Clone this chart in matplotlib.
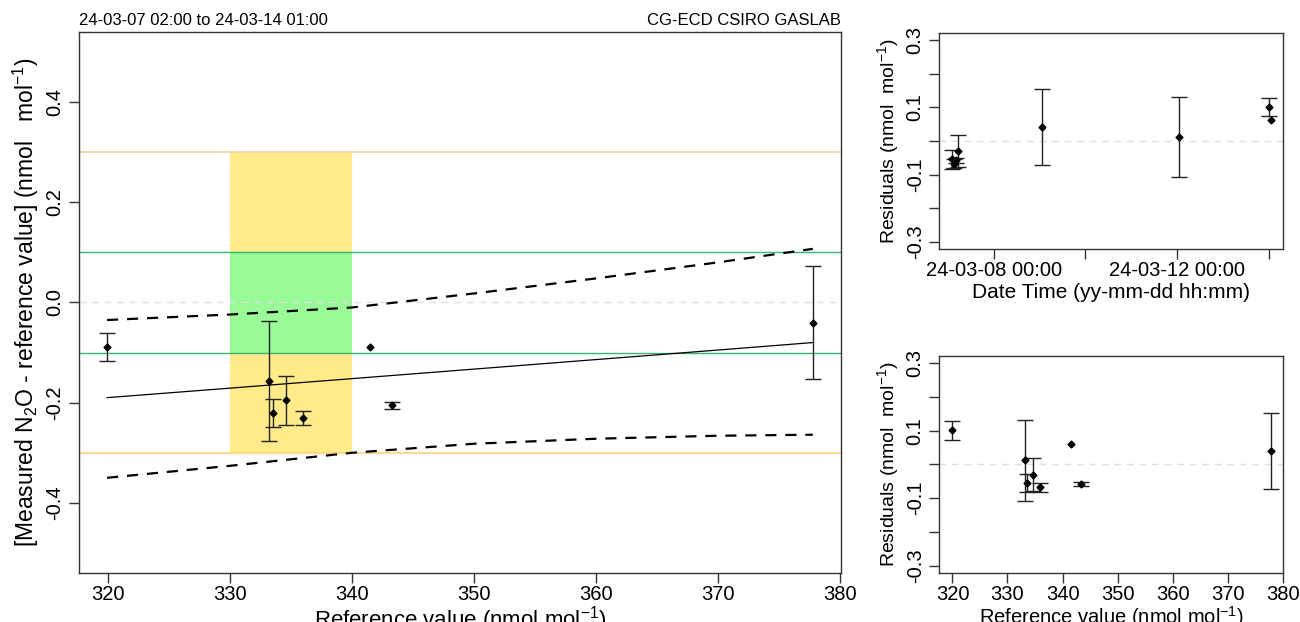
import matplotlib
matplotlib.use("Agg")
import matplotlib.pyplot as plt
import numpy as np
from datetime import datetime

plt.rcParams['font.family'] = ['Liberation Sans', 'DejaVu Sans']
plt.rcParams['mathtext.fontset'] = 'custom'
plt.rcParams['mathtext.rm'] = 'Liberation Sans'

# measurements: reference value, measured - reference, uncertainty
ref = [319.9, 333.2, 333.5, 334.6, 335.95, 341.5, 343.3, 377.8]
diff = [-0.089, -0.156, -0.221, -0.195, -0.231, -0.089, -0.205, -0.040]
unc = [0.028, 0.120, 0.028, 0.049, 0.014, 0.0, 0.007, 0.113]
resid = [0.101, 0.012, -0.055, -0.030, -0.068, 0.062, -0.058, 0.041]
times = ['24-03-14 00:00', '24-03-12 01:00', '24-03-07 02:00', '24-03-07 05:00',
         '24-03-07 03:00', '24-03-14 01:00', '24-03-07 04:00', '24-03-09 01:00']

# fitted line and confidence band
band_x = [319.9, 330, 340, 350, 360, 370, 377.8]
fit_y = [-0.190, -0.171, -0.152, -0.133, -0.114, -0.095, -0.080]
upper_y = [-0.035, -0.024, -0.010, 0.018, 0.048, 0.080, 0.107]
lower_y = [-0.350, -0.326, -0.300, -0.282, -0.272, -0.266, -0.264]

dates = [datetime.strptime(t, '%y-%m-%d %H:%M') for t in times]
# no bar where the uncertainty is zero
err = [u if u > 0 else np.nan for u in unc]

fig = plt.figure(figsize=(13, 6.22), dpi=100)
ax = fig.add_axes([0.0608, 0.0788, 0.586, 0.8698])
ax1 = fig.add_axes([0.7225, 0.5997, 0.2646, 0.3473])
ax2 = fig.add_axes([0.7225, 0.0788, 0.2646, 0.349])

def style(a, size):
    for s in a.spines.values():
        s.set_color('#333333')
        s.set_linewidth(1.0)
    a.tick_params(direction='out', length=7, width=1, colors='#333333',
                  labelcolor='black', labelsize=size)
    a.tick_params(axis='x', pad=2)
    for lab in a.get_yticklabels():
        lab.set_rotation(90)
        lab.set_va('center')

def points(a, x, y):
    a.errorbar(x, y, yerr=err, fmt='none', ecolor='#222222',
               elinewidth=1, capsize=6, capthick=1, zorder=3)
    a.plot(x, y, 'D', color='black', ms=3.5, zorder=4)

# main panel
ax.add_patch(plt.Rectangle((330, -0.3), 10, 0.6, color='#FFEB8A', lw=0, zorder=0))
ax.add_patch(plt.Rectangle((330, -0.1), 10, 0.2, color='#98FB98', lw=0, zorder=0))
ax.axhline(0.3, color='#F5CFA8', lw=1.2, zorder=1)
ax.axhline(-0.3, color='#FFD27F', lw=1.2, zorder=1)
ax.axhline(0.1, color='#3CB371', lw=1, zorder=1)
ax.axhline(-0.1, color='#3CB371', lw=1, zorder=1)
ax.axhline(0, color='#E0E0E0', lw=1, ls=(0, (5, 4)), zorder=1)
ax.plot(band_x, fit_y, color='black', lw=0.9, zorder=2)
ax.plot(band_x, upper_y, color='black', lw=1.6, ls=(0, (5, 4)), zorder=2)
ax.plot(band_x, lower_y, color='black', lw=1.6, ls=(0, (5, 4)), zorder=2)
points(ax, ref, diff)
ax.set_xlim(317.6, 380.1)
ax.set_ylim(-0.54, 0.54)
ax.set_xticks([320, 330, 340, 350, 360, 370, 380])
ax.set_yticks([-0.4, -0.2, 0.0, 0.2, 0.4])
ax.set_yticklabels(['-0.4', '-0.2', '0.0', '0.2', '0.4'])
ax.set_xlabel('Reference value (nmol mol$^{-1}$)', fontsize=16, labelpad=0)
ax.set_ylabel('[Measured N$_2$O - reference value] (nmol   mol$^{-1}$)', fontsize=16.5, labelpad=3)
ax.text(0.0, 1.008, '24-03-07 02:00 to 24-03-14 01:00', transform=ax.transAxes,
        fontsize=12, ha='left', va='bottom')
ax.text(1.0, 1.008, 'CG-ECD CSIRO GASLAB', transform=ax.transAxes,
        fontsize=12, ha='right', va='bottom')
style(ax, 14.5)

# residuals vs time
ax1.axhline(0, color='#E0E0E0', lw=1, ls=(0, (5, 4)), zorder=1)
points(ax1, dates, resid)
ax1.set_xlim(datetime(2024, 3, 6, 19, 20), datetime(2024, 3, 14, 7, 40))
ax1.set_ylim(-0.322, 0.322)
ticks = [datetime(2024, 3, 8), datetime(2024, 3, 10), datetime(2024, 3, 12), datetime(2024, 3, 14)]
ax1.set_xticks(ticks)
ax1.set_xticklabels(['24-03-08 00:00', '', '24-03-12 00:00', ''])
ax1.set_yticks([-0.3, -0.2, -0.1, 0.0, 0.1, 0.2, 0.3])
ax1.set_yticklabels(['-0.3', '', '-0.1', '', '0.1', '', '0.3'])
ax1.set_xlabel('Date Time (yy-mm-dd hh:mm)', fontsize=15, labelpad=2)
ax1.set_ylabel('Residuals (nmol  mol$^{-1}$)', fontsize=14, labelpad=3)
style(ax1, 14.5)

# residuals vs reference
ax2.axhline(0, color='#E0E0E0', lw=1, ls=(0, (5, 4)), zorder=1)
points(ax2, ref, resid)
ax2.set_xlim(317.6, 380.1)
ax2.set_ylim(-0.322, 0.322)
ax2.set_xticks([320, 330, 340, 350, 360, 370, 380])
ax2.set_yticks([-0.3, -0.2, -0.1, 0.0, 0.1, 0.2, 0.3])
ax2.set_yticklabels(['-0.3', '', '-0.1', '', '0.1', '', '0.3'])
ax2.set_xlabel('Reference value (nmol mol$^{-1}$)', fontsize=14.5, labelpad=0)
ax2.set_ylabel('Residuals (nmol  mol$^{-1}$)', fontsize=14, labelpad=3)
style(ax2, 14.5)

fig.savefig('out.png', dpi=100)
